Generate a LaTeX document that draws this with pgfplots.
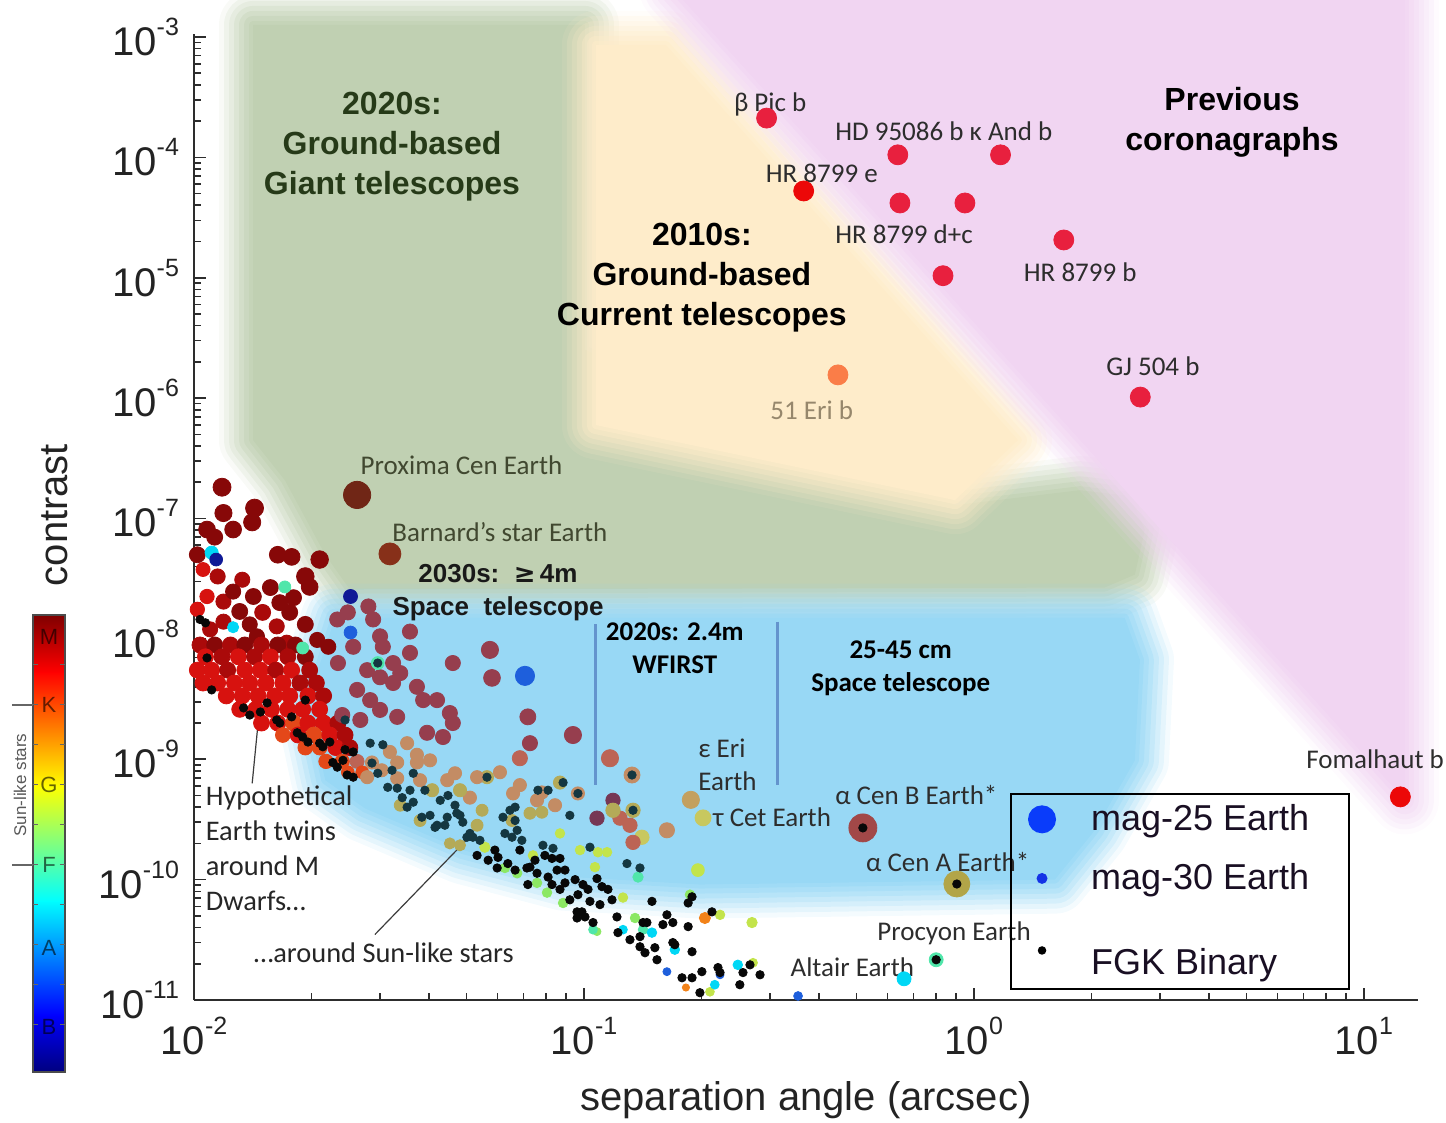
\documentclass[border=0pt]{standalone}
\usepackage{fontspec}
\setmainfont{Liberation Sans}
\newfontfamily\carl{Carlito}
\newfontfamily\dejavu{DejaVu Sans}
\usepackage{pgfplots}
\pgfplotsset{compat=1.18}
\usepackage{pgfplotstable}

\definecolor{gzone}{RGB}{192,208,178}
\definecolor{yzone}{RGB}{254,236,202}
\definecolor{pzone}{RGB}{241,213,242}
\definecolor{bzone}{RGB}{152,216,245}
\definecolor{axisgray}{RGB}{45,45,45}
\definecolor{ticktext}{RGB}{35,35,35}
\definecolor{ggreen}{RGB}{38,58,24}
\definecolor{labgray}{RGB}{45,45,45}
\definecolor{olivegray}{RGB}{65,72,48}
\definecolor{eritext}{RGB}{150,135,108}
\definecolor{wline}{RGB}{100,148,205}
\definecolor{leg25}{RGB}{10,60,250}
\definecolor{leg30}{RGB}{20,50,230}
\definecolor{legtext}{RGB}{25,15,35}
\definecolor{linegray}{RGB}{60,60,60}

% marker colours, indexed by the c column of the tables
\definecolor{c0}{RGB}{135,8,8}
\definecolor{c1}{RGB}{170,10,10}
\definecolor{c2}{RGB}{215,18,15}
\definecolor{c3}{RGB}{228,72,25}
\definecolor{c4}{RGB}{150,62,78}
\definecolor{c5}{RGB}{118,55,85}
\definecolor{c6}{RGB}{195,140,100}
\definecolor{c7}{RGB}{188,100,85}
\definecolor{c8}{RGB}{180,170,88}
\definecolor{c9}{RGB}{195,228,75}
\definecolor{c10}{RGB}{140,232,100}
\definecolor{c11}{RGB}{80,230,170}
\definecolor{c12}{RGB}{0,215,245}
\definecolor{c13}{RGB}{30,95,220}
\definecolor{c14}{RGB}{15,25,150}
\definecolor{c15}{RGB}{242,130,25}
\definecolor{c16}{RGB}{232,32,62}
\definecolor{c17}{RGB}{236,8,8}
\definecolor{c18}{RGB}{112,38,22}
\definecolor{c19}{RGB}{135,48,25}
\definecolor{c20}{RGB}{8,8,8}
\definecolor{c21}{RGB}{20,55,65}
\definecolor{c22}{RGB}{162,72,72}
\definecolor{c23}{RGB}{178,165,72}
\definecolor{c24}{RGB}{250,125,72}
\definecolor{c25}{RGB}{200,200,95}
\definecolor{c26}{RGB}{195,160,95}

% 10^n tick labels in the text font
\newcommand\pw[1]{10\raisebox{0.5em}{\fontsize{12.5}{12.5}\selectfont #1}}

% soft-edged shaded zone: graded translucent halos round an opaque core
\newcommand\softregion[2]{%
  \addplot[forget plot, draw=#1, draw opacity=0.10, line width=34pt, line join=round] coordinates {#2} -- cycle;
  \addplot[forget plot, draw=#1, draw opacity=0.17, line width=29pt, line join=round] coordinates {#2} -- cycle;
  \addplot[forget plot, draw=#1, draw opacity=0.20, line width=24pt, line join=round] coordinates {#2} -- cycle;
  \addplot[forget plot, draw=#1, draw opacity=0.25, line width=19pt, line join=round] coordinates {#2} -- cycle;
  \addplot[forget plot, draw=#1, draw opacity=0.33, line width=14pt, line join=round] coordinates {#2} -- cycle;
  \addplot[forget plot, draw=#1, draw opacity=0.40, line width=9pt, line join=round] coordinates {#2} -- cycle;
  \addplot[forget plot, draw=#1, draw opacity=0.55, line width=4pt, line join=round] coordinates {#2} -- cycle;
  \addplot[forget plot, fill=#1, draw=none] coordinates {#2} -- cycle;
}

\tikzset{
  lab/.style={font=\carl\fontsize{13.5}{16.5}\selectfont, text=labgray, inner sep=0pt, anchor=west},
  zone/.style={font=\bfseries\fontsize{16}{20}\selectfont, align=center, inner sep=0pt},
}
\pgfplotsset{
  classcolors/.style={point meta=explicit symbolic,
    scatter/classes={0={c0},1={c1},2={c2},3={c3},4={c4},5={c5},6={c6},
    7={c7},8={c8},9={c9},10={c10},11={c11},12={c12},13={c13},14={c14},15={c15},16={c16},
    17={c17},18={c18},19={c19},20={c20},21={c21},22={c22},23={c23},24={c24},25={c25},26={c26}}},
  dots/.style={forget plot, scatter, only marks, mark=*, classcolors,
    visualization depends on={\thisrow{s}\as\psize},
    scatter/@pre marker code/.append code={\pgfkeysalso{/tikz/mark size=\psize}}},
  flags/.style={forget plot, scatter, only marks, mark=*, mark size=2.1pt, classcolors},
}

% hypothetical Earth twins: separation (arcsec), contrast, marker radius (pt), colour index
\pgfplotstableread{
x y s c
0.0118 1.82e-7 4.5 0
0.0119 1.11e-7 4.3 0
0.0143 1.22e-7 4.5 0
0.0141 9.3e-8 4.3 0
0.0126 8.1e-8 4.2 0
0.0108 8.1e-8 4.2 0
0.0113 7.0e-8 4.0 0
0.0102 5.0e-8 4.0 0
0.0164 5.0e-8 4.2 0
0.0178 4.8e-8 4.2 0
0.0210 4.56e-8 4.4 0
0.0193 3.3e-8 4.4 0
0.0198 2.7e-8 4.2 0
0.01055 3.77e-8 3.5 2
0.0115 3.3e-8 3.8 1
0.0133 3.1e-8 3.8 1
0.0157 2.67e-8 4.0 0
0.0108 2.25e-8 3.6 2
0.0119 2.04e-8 3.8 1
0.0142 2.25e-8 4.0 0
0.0180 2.2e-8 4.0 0
0.0166 2.0e-8 4.0 0
0.0131 1.69e-8 4.0 0
0.0102 1.76e-8 3.6 2
0.0150 1.66e-8 4.0 1
0.0176 1.66e-8 4.0 0
0.0119 1.39e-8 3.8 1
0.0139 1.32e-8 3.8 0
0.0163 1.27e-8 3.8 1
0.0110 1.2e-8 3.8 1
0.0207 9.8e-9 3.8 0
0.0221 8.6e-9 3.8 0
0.0173 9.3e-9 3.8 1
0.0145 1.05e-8 3.8 0
0.0126 2.47e-8 3.8 0
0.0193 1.32e-8 4.0 0
0.01036 8.9e-9 4.0 1
0.0113 8.9e-9 4.0 0
0.0124 8.9e-9 4.0 1
0.0135 8.9e-9 4.0 0
0.0149 8.9e-9 4.0 1
0.0164 8.9e-9 4.0 0
0.0182 8.9e-9 4.0 0
0.0107 7.1e-9 4.0 2
0.0118 7.1e-9 4.0 1
0.0130 7.1e-9 4.0 2
0.0143 7.1e-9 4.0 1
0.0157 7.1e-9 4.0 2
0.0174 7.1e-9 4.0 1
0.0193 7.1e-9 4.0 0
0.0102 5.5e-9 4.0 2
0.0111 5.5e-9 4.0 2
0.0122 5.5e-9 4.0 1
0.0135 5.5e-9 4.0 2
0.0148 5.5e-9 4.0 2
0.0162 5.5e-9 4.0 1
0.0178 5.5e-9 4.0 2
0.0198 5.5e-9 4.0 1
0.01055 4.3e-9 4.0 2
0.0115 4.3e-9 4.0 2
0.0127 4.3e-9 4.0 2
0.0139 4.3e-9 4.0 2
0.0153 4.3e-9 4.0 2
0.0169 4.3e-9 4.0 2
0.0187 4.3e-9 4.0 1
0.0206 4.3e-9 4.0 1
0.0121 3.36e-9 4.0 2
0.0133 3.36e-9 4.0 2
0.0146 3.36e-9 4.0 2
0.0161 3.36e-9 4.0 2
0.0176 3.36e-9 4.0 2
0.0196 3.36e-9 4.0 2
0.0215 3.36e-9 4.0 1
0.0131 2.6e-9 4.0 2
0.0144 2.6e-9 4.0 2
0.0158 2.6e-9 4.0 2
0.0174 2.6e-9 4.0 2
0.0190 2.6e-9 4.0 2
0.0210 2.6e-9 4.0 2
0.0149 2.0e-9 4.0 2
0.0164 2.0e-9 4.0 2
0.0180 2.0e-9 4.0 3
0.0196 2.0e-9 4.0 2
0.0215 2.0e-9 4.0 2
0.0234 2.0e-9 4.0 1
0.0169 1.59e-9 3.7 3
0.0185 1.59e-9 4.0 2
0.0203 1.59e-9 4.0 3
0.0223 1.59e-9 4.0 2
0.0244 1.59e-9 4.0 1
0.0193 1.25e-9 3.7 3
0.0210 1.25e-9 3.7 3
0.0231 1.25e-9 4.0 2
0.0251 1.25e-9 4.0 1
0.0218 9.6e-10 3.6 3
0.0240 9.6e-10 3.6 3
0.0262 9.6e-10 3.5 7
0.0248 7.8e-10 3.2 3
0.0270 7.8e-10 3.2 3
0.0280 1.86e-8 3.8 4
0.0248 1.66e-8 3.8 4
0.0288 1.45e-8 3.8 4
0.0233 1.45e-8 3.8 4
0.0358 1.15e-8 3.8 4
0.0300 1.05e-8 3.8 4
0.0574 8.1e-9 4.3 4
0.0461 6.3e-9 3.8 4
0.0305 8.6e-9 3.8 4
0.0256 8.6e-9 3.8 4
0.0324 6.3e-9 3.8 4
0.0358 7.65e-9 3.8 4
0.0234 6.3e-9 3.8 4
0.0262 3.77e-9 3.8 4
0.0300 4.8e-9 3.8 4
0.0338 5.2e-9 3.8 4
0.0373 4.0e-9 3.8 4
0.0581 4.74e-9 4.2 4
0.0324 4.3e-9 3.8 4
0.0278 5.5e-9 3.8 4
0.0387 3.1e-9 3.8 4
0.0420 3.1e-9 3.8 4
0.0300 2.57e-9 3.8 4
0.0332 2.25e-9 3.8 4
0.0453 2.42e-9 3.8 4
0.0461 2.0e-9 3.8 4
0.0396 1.66e-9 3.8 4
0.0435 1.53e-9 3.8 4
0.0718 2.25e-9 4.0 4
0.0937 1.59e-9 4.3 4
0.0727 1.36e-9 3.8 4
0.0267 2.12e-9 3.8 4
0.0283 3.1e-9 3.8 4
0.0240 2.33e-9 3.8 4
0.0685 1.02e-9 3.8 7
0.0373 1.09e-9 3.3 6
0.0352 1.36e-9 3.3 6
0.1166 1.02e-9 4.3 7
0.1328 7.4e-10 4.0 6
0.1187 4.56e-10 3.6 5
0.108 3.24e-10 3.6 5
0.1237 3.24e-10 3.6 7
0.1312 2.83e-10 3.6 7
0.1336 3.77e-10 3.6 8
0.1187 3.77e-10 3.6 8
0.1408 2.25e-10 3.6 25
0.1336 2.04e-10 3.6 7
0.1632 2.57e-10 3.8 6
0.0868 6.4e-10 3.3 8
0.0780 5.3e-10 3.3 6
0.0965 5.2e-10 3.3 6
0.0758 4.56e-10 3.3 6
0.0658 5.2e-10 3.3 6
0.0609 7.8e-10 3.3 6
0.0564 7.1e-10 3.3 8
0.0532 7.1e-10 3.3 6
0.0467 7.65e-10 3.3 6
0.0446 6.7e-10 3.3 6
0.0408 5.53e-10 3.3 8
0.0380 6.7e-10 3.3 6
0.0332 6.95e-10 3.3 6
0.0303 8.1e-10 3.3 6
0.0278 7.1e-10 3.3 6
0.0286 9.4e-10 3.3 6
0.0332 9.4e-10 3.3 6
0.0373 9.4e-10 3.3 6
0.0510 4.8e-10 3.3 6
0.0318 1.15e-9 3.3 6
0.0403 9.8e-10 3.3 6
0.0481 5.53e-10 3.3 8
0.0685 6.1e-10 3.3 6
0.0843 4.15e-10 3.3 6
0.0548 3.77e-10 3.0 8
0.0532 2.83e-10 3.0 8
0.0654 3.1e-10 3.0 8
0.0727 3.56e-10 3.0 8
0.0780 3.63e-10 3.0 8
0.0453 2.0e-10 2.8 8
0.0481 1.93e-10 2.8 8
0.0557 1.86e-10 2.6 9
0.0338 4.15e-10 3.0 8
0.0380 3.1e-10 3.0 8
0.0740 1.59e-10 2.4 9
0.0977 1.76e-10 2.4 9
0.1086 1.69e-10 2.4 9
0.1146 1.69e-10 2.4 9
0.1067 1.27e-10 2.4 9
0.1259 7.1e-11 2.4 9
0.2233 5.1e-11 2.4 9
0.2697 4.4e-11 2.6 9
0.196 1.2e-10 3.2 9
0.0868 2.42e-10 2.4 9
0.2104 1.17e-11 2.2 9
0.2714 2.04e-11 2.2 9
0.0627 1.25e-10 2.4 10
0.0674 1.13e-10 2.4 10
0.0758 9.4e-11 2.4 10
0.0804 7.8e-11 2.4 10
0.0884 6.4e-11 2.4 10
0.1352 4.8e-11 2.4 10
0.187 7.5e-11 2.4 10
0.108 3.7e-11 2.0 10
0.1376 1.05e-10 2.6 11
0.1417 3.84e-11 2.4 11
0.1055 3.84e-11 2.2 11
0.0171 2.7e-8 3.0 11
0.0190 8.4e-9 3.0 11
0.0296 6.3e-9 3.2 11
0.1259 3.84e-11 2.2 12
0.1494 3.63e-11 2.4 12
0.171 2.62e-11 2.4 12
0.2165 1.34e-11 2.2 12
0.248 1.96e-11 2.4 12
0.0111 5.2e-8 3.3 12
0.0126 1.25e-8 2.8 12
0.1632 1.72e-11 2.0 13
0.2233 1.62e-11 2.0 13
0.354 1.08e-11 2.2 13
0.0252 1.13e-8 3.2 13
0.0706 4.93e-9 4.8 13
0.0252 2.25e-8 3.5 14
0.0114 4.56e-8 3.2 14
0.2042 4.8e-11 2.8 15
0.1826 1.27e-11 1.8 15
0.0262 1.57e-7 6.8 18
0.0318 5.08e-8 5.5 19
0.188 4.6e-10 4.3 26
0.202 3.26e-10 4.0 25
0.519 2.69e-10 7.0 22
0.904 9.2e-11 6.5 23
0.80 2.16e-11 3.5 11
0.662 1.5e-11 3.5 12
}\earths

% FGK binary markers: separation, contrast, colour index
\pgfplotstableread{
x y c
0.01036 1.45e-8 20
0.0107 1.36e-8 20
0.0108 6.95e-9 20
0.0111 3.77e-9 20
0.0134 2.67e-9 20
0.0139 2.33e-9 20
0.0148 2.47e-9 20
0.0154 2.94e-9 20
0.0163 2.12e-9 20
0.0166 2.0e-9 20
0.0178 2.25e-9 20
0.0193 3.1e-9 20
0.0184 1.66e-9 20
0.0190 1.53e-9 20
0.0196 1.39e-9 20
0.0210 1.36e-9 20
0.0214 1.27e-9 20
0.0223 1.39e-9 20
0.0244 2.12e-9 21
0.0227 9.4e-10 20
0.0233 8.6e-10 20
0.0241 9.8e-10 20
0.0247 7.4e-10 20
0.0256 7.1e-10 20
0.0244 1.2e-9 20
0.0256 1.15e-9 20
0.0283 1.36e-9 21
0.0305 1.32e-9 21
0.0286 9.3e-10 21
0.0365 7.65e-10 21
0.0296 7.65e-10 21
0.0314 5.85e-10 21
0.0332 5.75e-10 21
0.0342 4.8e-10 21
0.0365 4.4e-10 21
0.0352 4.0e-10 21
0.0384 3.3e-10 21
0.0403 3.42e-10 21
0.0415 2.72e-10 21
0.0440 2.83e-10 21
0.0448 5.0e-10 21
0.0467 4.15e-10 21
0.0472 3.56e-10 21
0.0489 3.0e-10 21
0.0510 2.42e-10 21
0.0519 2.25e-10 21
0.0501 2.25e-10 21
0.0532 1.59e-10 20
0.0568 1.45e-10 20
0.0599 1.25e-10 20
0.0602 1.53e-10 20
0.0638 1.36e-10 20
0.0666 1.2e-10 20
0.0627 2.42e-10 21
0.0654 2.25e-10 21
0.0674 2.57e-10 21
0.0693 2.12e-10 21
0.0666 3.1e-10 21
0.0620 3.3e-10 21
0.0646 3.77e-10 21
0.0666 4.0e-10 21
0.0714 1.25e-10 20
0.0727 1.27e-10 20
0.0758 1.13e-10 20
0.0718 9.1e-11 20
0.0785 1.93e-10 21
0.0794 1.59e-10 20
0.0828 1.5e-10 20
0.0833 1.82e-10 21
0.0868 1.5e-10 20
0.0809 1.05e-10 20
0.0828 9.1e-11 20
0.0853 1.2e-10 20
0.0868 8.3e-11 20
0.0894 9.4e-11 20
0.0920 6.8e-11 20
0.0960 5.4e-11 20
0.0988 5.4e-11 20
0.1006 4.9e-11 20
0.0960 4.8e-11 20
0.1055 4.4e-11 20
0.0994 9.1e-11 20
0.1024 8.3e-11 20
0.108 1.02e-10 20
0.1112 8.75e-11 20
0.1152 8.3e-11 20
0.1036 6.6e-11 20
0.0965 7.5e-11 20
0.0762 5.53e-10 21
0.0809 5.53e-10 21
0.0884 6.4e-10 21
0.0965 5.2e-10 21
0.0920 3.42e-10 21
0.1215 4.9e-11 20
0.1222 3.63e-11 20
0.1312 3.17e-11 20
0.1392 3.36e-11 20
0.1392 2.77e-11 20
0.145 4.4e-11 20
0.1434 2.47e-11 20
0.1539 2.16e-11 20
0.152 2.72e-11 20
0.1594 4.23e-11 20
0.169 3.0e-11 20
0.185 4.07e-11 20
0.1893 2.52e-11 20
0.1784 1.53e-11 20
0.1893 1.53e-11 20
0.1983 1.15e-11 20
0.2006 1.72e-11 20
0.2206 1.86e-11 20
0.2233 1.69e-11 20
0.251 1.34e-11 20
0.2557 1.69e-11 20
0.2665 1.96e-11 20
0.2828 1.62e-11 20
0.1494 6.6e-11 20
0.1632 5.1e-11 20
0.1893 7.2e-11 20
0.185 6.4e-11 20
0.2129 5.4e-11 20
0.1036 1.86e-10 21
0.1289 1.36e-10 21
0.1392 1.25e-10 21
0.1417 4.4e-11 20
0.171 2.88e-11 20
0.169 4.4e-11 20
0.0358 5.53e-10 21
0.0420 2.83e-10 21
0.0446 3.3e-10 21
0.0322 8.1e-10 21
0.0391 5.53e-10 21
0.0428 4.56e-10 21
0.0481 3.42e-10 21
0.0541 2.12e-10 21
0.0591 1.76e-10 20
0.0685 1.76e-10 20
0.0749 1.45e-10 20
0.0894 1.2e-10 20
0.0949 1.0e-10 20
0.1099 6.2e-11 20
0.1180 6.8e-11 20
0.1328 7.4e-10 21
0.1336 3.77e-10 21
0.0564 7.1e-10 21
0.0296 6.3e-9 21
0.519 2.69e-10 20
0.904 9.2e-11 20
0.80 2.16e-11 20
}\binaries

% directly imaged planets
\pgfplotstableread{
x y s c
0.294 2.12e-4 5.0 16
0.366 5.26e-5 5.0 17
0.638 1.05e-4 5.0 16
1.17 1.05e-4 5.0 16
0.646 4.18e-5 5.0 16
0.948 4.18e-5 5.0 16
1.70 2.06e-5 5.0 16
0.833 1.04e-5 5.0 16
2.67 1.02e-6 5.0 16
0.448 1.56e-6 5.0 24
12.4 4.87e-10 5.0 17
}\planets

\begin{document}
\begin{tikzpicture}
\begin{axis}[
  at={(0pt,0pt)}, anchor=south west,
  scale only axis, width=612pt, height=483pt,
  xmode=log, ymode=log,
  xmin=0.01, xmax=13.76, ymin=1e-11, ymax=1.059e-3,
  axis lines*=left,
  axis line style={line width=1pt, color=axisgray},
  tick align=inside,
  major tick length=6pt, minor tick length=3.5pt,
  tick style={line width=0.8pt, color=axisgray},
  xtick={0.01,0.1,1,10},
  xticklabels={\pw{-2},\pw{-1},\pw{0},\pw{1}},
  ytick={1e-11,1e-10,1e-9,1e-8,1e-7,1e-6,1e-5,1e-4,1e-3},
  yticklabels={\pw{-11},\pw{-10},\pw{-9},\pw{-8},\pw{-7},\pw{-6},\pw{-5},\pw{-4},\pw{-3}},
  minor xtick={0.02,0.03,0.04,0.05,0.06,0.07,0.08,0.09,0.2,0.3,0.4,0.5,0.6,0.7,0.8,0.9,2,3,4,5,6,7,8,9},
  minor ytick={2e-11,3e-11,4e-11,5e-11,6e-11,7e-11,8e-11,9e-11,
    2e-10,3e-10,4e-10,5e-10,6e-10,7e-10,8e-10,9e-10,
    2e-9,3e-9,4e-9,5e-9,6e-9,7e-9,8e-9,9e-9,
    2e-8,3e-8,4e-8,5e-8,6e-8,7e-8,8e-8,9e-8,
    2e-7,3e-7,4e-7,5e-7,6e-7,7e-7,8e-7,9e-7,
    2e-6,3e-6,4e-6,5e-6,6e-6,7e-6,8e-6,9e-6,
    2e-5,3e-5,4e-5,5e-5,6e-5,7e-5,8e-5,9e-5,
    2e-4,3e-4,4e-4,5e-4,6e-4,7e-4,8e-4,9e-4},
  tick label style={font=\fontsize{20}{20}\selectfont, text=ticktext},
  yticklabel style={xshift=-4pt},
  xticklabel style={yshift=-5pt},
  xlabel={separation angle (arcsec)},
  ylabel={contrast},
  label style={font=\fontsize{20}{24}\selectfont, text=ticktext},
  xlabel style={at={(axis description cs:0.5,-0.1035)}, anchor=center},
  ylabel style={at={(axis description cs:-0.1136,0.502)}, anchor=center},
  clip=false,
  legend style={at={(0.6667,0.0104)}, anchor=south west, draw=black, line width=1pt,
    fill=none, font=\fontsize{18}{21}\selectfont, text=legtext,
    inner xsep=3pt, inner ysep=3.5pt, row sep=11pt},
  legend cell align=left,
]

% observing zones
\softregion{gzone}{(0.01417,1.26e-3) (0.1006,1.26e-3) (0.1006,2.52e-6) (0.894,1.29e-7) (1.87,1.72e-7) (2.51,1.54e-7) (2.745,8.1e-8) (2.587,3.42e-8) (2.165,2.67e-8) (0.0251,2.57e-8) (0.0217,5.0e-8) (0.0171,2.08e-7) (0.01417,4.48e-7)}
\softregion{yzone}{(0.1073,8.6e-4) (0.1622,8.6e-4) (1.297,4.48e-7) (0.894,1.42e-7) (0.1073,5.97e-7)}
\softregion{pzone}{(0.1700,2.46e-3) (12.74,2.46e-3) (12.74,4.56e-10)}
\softregion{bzone}{(0.0230,1.5e-8) (2.436,1.5e-8) (2.665,6.7e-9) (2.587,9.8e-10) (2.042,2.57e-10) (1.613,1.0e-10) (0.1983,9.1e-11) (0.0884,1.06e-10) (0.0489,1.76e-10) (0.02745,3.9e-10) (0.0217,6.7e-10) (0.0196,3.1e-9)}

% WFIRST band separators
\addplot[forget plot, color=wline, line width=1.5pt] coordinates {(0.1073,1.32e-8) (0.1073,6.1e-10)};
\addplot[forget plot, color=wline, line width=1.5pt] coordinates {(0.314,1.39e-8) (0.314,6.1e-10)};

% pointer lines of the two annotations
\addplot[forget plot, color=linegray, line width=0.6pt] coordinates {(0.0141,6.3e-10) (0.0149,3.9e-9)};
\addplot[forget plot, color=linegray, line width=0.6pt] coordinates {(0.0291,3.5e-11) (0.0519,2.42e-10)};

% Earth twins, coloured by spectral type
\addplot[dots] table[x=x, y=y, meta=c] {\earths};
% FGK binary flags
\addplot[flags] table[x=x, y=y, meta=c] {\binaries};
% known planets
\addplot[dots] table[x=x, y=y, meta=c] {\planets};

% zone titles
\node[zone, text=ggreen] at (axis cs:0.0322,1.234e-4) {2020s:\\Ground-based\\Giant telescopes};
\node[zone, text=black] at (axis cs:0.2006,1.0e-5) {2010s:\\Ground-based\\Current telescopes};
\node[zone, text=black] at (axis cs:4.59,1.95e-4) {Previous\\coronagraphs};
\node[font=\bfseries\fontsize{13}{16.5}\selectfont, align=center, inner sep=0pt, text=black!90]
  at (axis cs:0.0602,2.4e-8) {2030s:\ \ {\dejavu ≥}\,4m\\Space\ \ telescope};
\node[font=\carl\bfseries\fontsize{13.5}{16.5}\selectfont, align=center, inner sep=0pt]
  at (axis cs:0.171,8.4e-9) {2020s: 2.4m\\WFIRST};
\node[font=\carl\bfseries\fontsize{13.5}{16.5}\selectfont, align=center, inner sep=0pt]
  at (axis cs:0.649,5.75e-9) {25-45 cm\\Space telescope};

% planet names
\node[lab] at (axis cs:0.242,2.75e-4) {β Pic b};
\node[lab] at (axis cs:0.44,1.64e-4) {HD 95086 b κ And b};
\node[lab] at (axis cs:0.292,7.36e-5) {HR 8799 e};
\node[lab] at (axis cs:0.44,2.29e-5) {HR 8799 d+c};
\node[lab] at (axis cs:1.34,1.12e-5) {HR 8799 b};
\node[lab] at (axis cs:2.18,1.84e-6) {GJ 504 b};
\node[lab, text=eritext] at (axis cs:0.30,7.94e-7) {51 Eri b};
\node[lab] at (axis cs:7.10,1.0e-9) {Fomalhaut b};

% Earth twin names
\node[lab, text=olivegray] at (axis cs:0.0267,2.78e-7) {Proxima Cen Earth};
\node[lab, text=olivegray] at (axis cs:0.0322,7.65e-8) {Barnard’s star Earth};
\node[lab, align=left] at (axis cs:0.196,9.0e-10) {ε Eri\\Earth};
\node[lab] at (axis cs:0.214,3.3e-10) {τ Cet Earth};
\node[lab] at (axis cs:0.44,5.0e-10) {α Cen B Earth*};
\node[lab] at (axis cs:0.528,1.39e-10) {α Cen A Earth*};
\node[lab] at (axis cs:0.564,3.6e-11) {Procyon Earth};
\node[lab] at (axis cs:0.338,1.89e-11) {Altair Earth};
\node[lab, font=\carl\fontsize{14.2}{17.5}\selectfont, text=black!85, align=left]
  at (axis cs:0.0107,1.82e-10) {Hypothetical\\Earth twins\\around M\\Dwarfs…};
\node[lab, font=\carl\fontsize{14.2}{17.5}\selectfont, text=black!85]
  at (axis cs:0.0142,2.47e-11) {…around Sun-like stars};

\addlegendimage{legend image code/.code={\path (0pt,-8pt) (34pt,8pt); \fill[leg25] (12pt,0pt) circle (6.5pt);}}
\addlegendentry{\makebox[124pt][l]{mag-25 Earth}}
\addlegendimage{legend image code/.code={\path (0pt,-8pt) (34pt,8pt); \fill[leg30] (12pt,0pt) circle (2.2pt);}}
\addlegendentry{mag-30 Earth}
\addlegendimage{legend image code/.code={\path (0pt,-8pt) (34pt,8pt); \fill[black] (12pt,0pt) circle (1.6pt);}}
\addlegendentry{\rule{0pt}{26pt}FGK Binary}
\end{axis}

% spectral-type colour bar (one unit = one pixel of the 1446 x 1123 frame)
\begin{scope}[x=0.5pt, y=-0.5pt, shift={(-97pt,500pt)}]
  \shade[bottom color={rgb,1:red,0;green,0;blue,0.5}, top color={rgb,1:red,0;green,0;blue,1}] (33,1072) rectangle (65,1014.5);
  \shade[bottom color={rgb,1:red,0;green,0;blue,1}, top color={rgb,1:red,0;green,1;blue,1}] (33,1015.5) rectangle (65,900.2);
  \shade[bottom color={rgb,1:red,0;green,1;blue,1}, top color={rgb,1:red,1;green,1;blue,0}] (33,901.2) rectangle (65,786.0);
  \shade[bottom color={rgb,1:red,1;green,1;blue,0}, top color={rgb,1:red,1;green,0;blue,0}] (33,787) rectangle (65,671.6);
  \shade[bottom color={rgb,1:red,1;green,0;blue,0}, top color={rgb,1:red,0.5;green,0;blue,0}] (33,672.6) rectangle (65,615);
  \draw[line width=0.6pt, color=black!70] (33,615) rectangle (65,1072);
  \foreach \t in {665,705,745,785,825,865,905,945,985,1025} {
    \draw[line width=0.5pt, color=black!60] (60,\t) -- (65,\t);
    \draw[line width=0.5pt, color=black!60] (33,\t) -- (38,\t);
  }
  \draw[line width=1pt, color=black!60] (12,705) -- (33,705);
  \draw[line width=1pt, color=black!60] (12,865) -- (33,865);
  \foreach \l/\p in {M/637,K/705,G/785,F/865,A/948,B/1027}
    \node[font=\fontsize{11}{11}\selectfont, text=black, opacity=0.6, inner sep=0pt] at (49,\p) {\l};
  \node[rotate=90, font=\fontsize{8.5}{8.5}\selectfont, text=black!65, inner sep=0pt] at (20,785) {Sun-like stars};
\end{scope}

\pgfresetboundingbox
\useasboundingbox (-97pt,-61.5pt) rectangle (626pt,500pt);
\end{tikzpicture}
\end{document}
